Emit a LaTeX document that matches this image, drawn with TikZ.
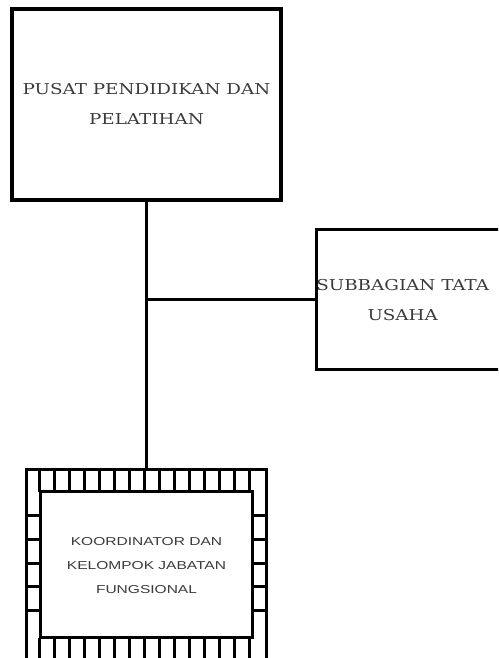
\documentclass[tikz,border=0pt]{standalone}
\usepackage{fontspec}
\setmainfont[FakeStretch=1.22]{DejaVu Serif}
\newfontfamily\koorfont[FakeStretch=1.35]{Liberation Sans}
\usepackage{tikz}
\usetikzlibrary{positioning,calc}
\definecolor{TextGray}{HTML}{3A3A3A}
\tikzset{
  UB/.style={rectangle,draw,line width=3.2pt,
             text centered,align=center,text=TextGray,
             font=\fontsize{15}{30}\selectfont},
  KB/.style={UB,font=\koorfont\fontsize{11.5}{24}\selectfont},
  brick/.style={line width=3pt}
}

\begin{document}
\begin{tikzpicture}
  \useasboundingbox (0,0) rectangle (498pt,-658pt);
  \clip (0,0) rectangle (498pt,-658pt);

  \node[UB,minimum width=269pt,minimum height=191pt] (pusat) at (146.5pt,-104.5pt) {PUSAT PENDIDIKAN DAN\\PELATIHAN};
  \node[UB,minimum width=210pt,minimum height=140pt,anchor=north west,below right=26pt and 32pt of pusat.south east] (subbag) {\hspace*{-37pt}\begin{tabular}{@{}c@{}}SUBBAGIAN TATA\\USAHA\end{tabular}};
  \node[KB,minimum width=240pt,minimum height=193pt,below=266pt of pusat.south] (koor) {KOORDINATOR DAN\\KELOMPOK JABATAN\\FUNGSIONAL};

  % bingkai bata
  \draw[brick] ([shift={(16pt,-24pt)}]koor.north west) rectangle ([shift={(-16pt,26pt)}]koor.south east);
  \foreach \i in {1,...,15} {
    \draw[brick] ([xshift=\i*15pt]koor.north west) -- ++(0,-24pt);
    \draw[brick] ([xshift=\i*15pt]koor.south west) -- ++(0,26pt);
  }
  \foreach \j in {1,...,5} {
    \draw[brick] ([yshift=-24pt-\j*23.83pt]koor.north west) -- ++(16pt,0);
    \draw[brick] ([yshift=-24pt-\j*23.83pt]koor.north east) -- ++(-16pt,0);
  }

  \draw[brick] (pusat.south) -- (koor.north);
  \draw[brick] (subbag.west) -- (pusat.south |- subbag.west);
\end{tikzpicture}
\end{document}
